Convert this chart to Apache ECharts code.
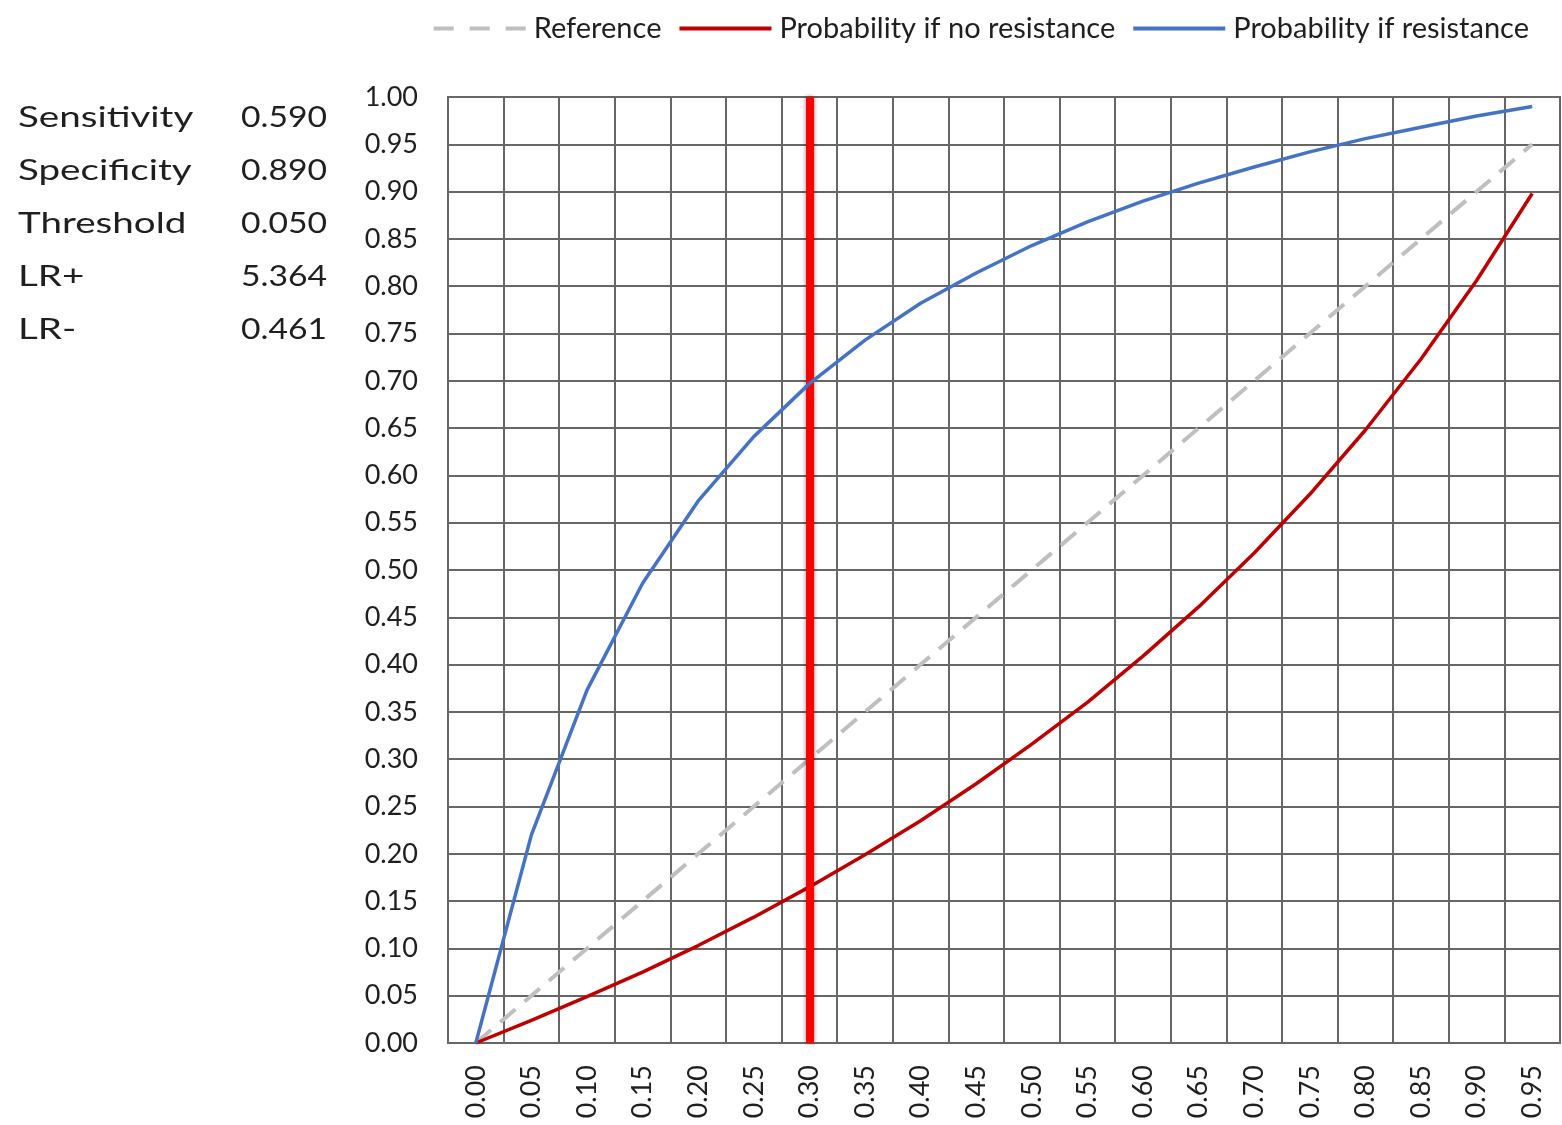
<!DOCTYPE html>
<html>
<head>
<meta charset="utf-8">
<script src="https://cdn.jsdelivr.net/npm/echarts@6/dist/echarts.min.js"></script>
<style>
html,body{margin:0;padding:0;background:#fff;}
#chart{width:1562px;height:1125px;}
</style>
</head>
<body>
<div id="chart"></div>
<script>
// ---- data ----
var categories = ['0.00','0.05','0.10','0.15','0.20','0.25','0.30','0.35','0.40','0.45','0.50','0.55','0.60','0.65','0.70','0.75','0.80','0.85','0.90','0.95'];
var referenceValues = [0.00,0.05,0.10,0.15,0.20,0.25,0.30,0.35,0.40,0.45,0.50,0.55,0.60,0.65,0.70,0.75,0.80,0.85,0.90,0.95];
var noResistance = [0.000,0.024,0.049,0.075,0.103,0.133,0.165,0.199,0.235,0.274,0.316,0.360,0.409,0.461,0.518,0.580,0.648,0.723,0.806,0.898];
var resistance = [0.000,0.220,0.373,0.486,0.573,0.641,0.697,0.743,0.782,0.814,0.843,0.868,0.890,0.909,0.926,0.942,0.956,0.968,0.980,0.990];
var markerCategory = '0.30';
var statLabels = ['Sensitivity','Specificity','Threshold','LR+','LR-'];
var statValues = ['0.590','0.890','0.050','5.364','0.461'];
var seriesNames = ['Reference','Probability if no resistance','Probability if resistance'];

var FONT = 'Lato, "Liberation Sans", sans-serif';
var chart = echarts.init(document.getElementById('chart'));

var graphics = [];
var rowY = [118,171,224,277,330];
statLabels.forEach(function(t,i){
  graphics.push({type:'text', x:18, y:rowY[i], scaleX:1.33,
    style:{text:t, font:'29px '+FONT, fill:'#1f1f1f', textAlign:'left', textVerticalAlign:'middle'}});
  graphics.push({type:'text', x:327, y:rowY[i], scaleX:1.16,
    style:{text:statValues[i], font:'29px '+FONT, fill:'#1f1f1f', textAlign:'right', textVerticalAlign:'middle'}});
});

chart.setOption({
  animation:false,
  backgroundColor:'#fff',
  textStyle:{fontFamily:FONT},
  graphic: graphics,
  legend:{
    top:9, right:28,
    itemWidth:92, itemHeight:4, itemGap:18,
    symbolKeepAspect:false,
    textStyle:{fontSize:29, color:'#1f1f1f', fontFamily:FONT, padding:[0,0,0,3]},
    data:[
      {name:seriesNames[0], icon:'path://M0,0H20V4H0Z M36,0H56V4H36Z M72,0H92V4H72Z'},
      {name:seriesNames[1], icon:'rect'},
      {name:seriesNames[2], icon:'rect'}
    ]
  },
  grid:{left:448, right:2, top:97, bottom:82, show:true, borderColor:'#666', borderWidth:2},
  xAxis:{
    type:'category', data:categories, boundaryGap:true,
    axisLine:{show:true, lineStyle:{color:'#666', width:2}},
    axisTick:{show:false},
    axisLabel:{rotate:90, fontSize:27, color:'#1f1f1f', margin:22, interval:0, fontFamily:FONT},
    splitLine:{show:true, interval:0, lineStyle:{color:'#666', width:2}}
  },
  yAxis:{
    type:'value', min:0, max:1, interval:0.05,
    axisLine:{show:false}, axisTick:{show:false},
    axisLabel:{fontSize:27, color:'#1f1f1f', margin:30, fontFamily:FONT, formatter:function(v){return v.toFixed(2);}},
    splitLine:{show:true, lineStyle:{color:'#666', width:2}}
  },
  series:[
    {name:seriesNames[0], type:'line', data:referenceValues, symbol:'none', z:3,
     lineStyle:{color:'#BFBFBF', width:4, type:[20,12]}, itemStyle:{color:'#BFBFBF'}},
    {name:seriesNames[1], type:'line', data:noResistance, symbol:'none', z:4,
     lineStyle:{color:'#C00000', width:3.5}, itemStyle:{color:'#C00000'},
     markLine:{silent:true, symbol:'none', label:{show:false},
       lineStyle:{color:'#FF0000', width:8, type:'solid', shadowColor:'rgba(0,0,0,0.5)', shadowBlur:4},
       data:[{xAxis:markerCategory}]}},
    {name:seriesNames[2], type:'line', data:resistance, symbol:'none', z:5,
     lineStyle:{color:'#4472C4', width:3.5}, itemStyle:{color:'#4472C4'}}
  ]
});
</script>
</body>
</html>
